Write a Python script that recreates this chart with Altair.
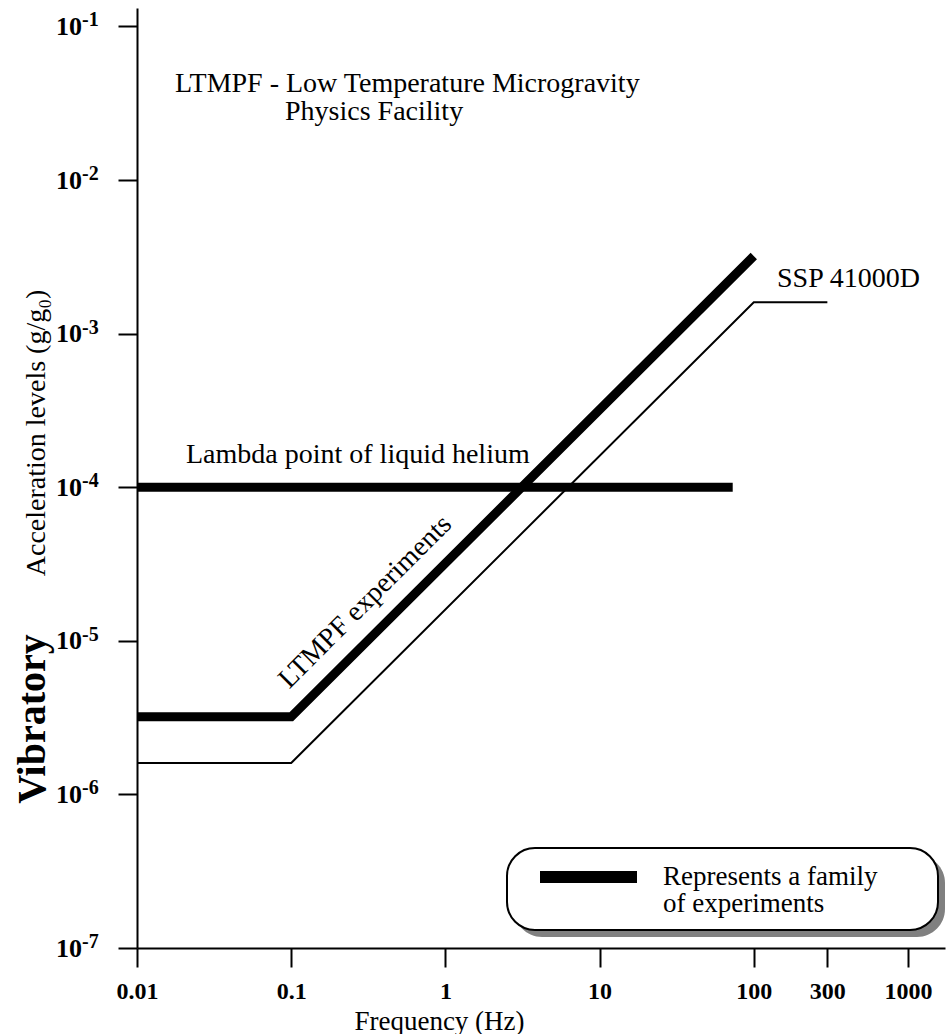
import altair as alt
import pandas as pd

SERIF = "Liberation Serif"

# ---- data ----
ltmpf_freq = [0.01, 0.1, 100]
ltmpf_acc = [3.2e-6, 3.2e-6, 3.2e-3]

ssp_freq = [0.01, 0.1, 100, 300]
ssp_acc = [1.6e-6, 1.6e-6, 1.6e-3, 1.6e-3]

lambda_freq = [0.01, 73]
lambda_acc = [1e-4, 1e-4]

x_ticks = [0.01, 0.1, 1, 10, 100, 300, 1000]
y_ticks = [1e-7, 1e-6, 1e-5, 1e-4, 1e-3, 1e-2, 1e-1]
y_base = ["10"] * 7
y_exp = ["-7", "-6", "-5", "-4", "-3", "-2", "-1"]

x_domain = [0.01, 1738]
y_domain = [1e-7, 0.1318]

# annotation anchors (frequency, acceleration)
title_lines = ["LTMPF - Low Temperature Microgravity", "Physics Facility"]
title_f = [0.01764, 0.0912]
title_a = [0.03758, 0.0247]

lambda_label = ["Lambda point of liquid helium"]
lambda_label_f = [0.02078]
lambda_label_a = [1.443e-4]

ssp_label = ["SSP 41000D"]
ssp_label_f = [141.4]
ssp_label_a = [2.02e-3]

ltmpf_label = ["LTMPF experiments"]
ltmpf_label_f = [0.3293]
ltmpf_label_a = [1.642e-5]

legend_lines = ["Represents a family", "of experiments"]

# ---- encodings ----
x_axis = alt.Axis(
    values=x_ticks, labelExpr="format(datum.value, '~g')",
    tickSize=19, tickWidth=2, tickColor="black",
    domainWidth=2, domainColor="black", grid=False,
    labelFont=SERIF, labelFontSize=24, labelFontWeight="bold", labelColor="black",
    labelPadding=12, labelBaseline="top", labelFlush=False, labelOverlap=False,
    title="Frequency (Hz)", titleFont=SERIF, titleFontSize=27, titleFontWeight="normal",
    titleColor="black", titleX=302, titleY=81, titleAlign="center", titleBaseline="alphabetic",
)
y_axis = alt.Axis(
    values=y_ticks, labels=False, tickSize=19, tickWidth=2, tickColor="black",
    domainWidth=2, domainColor="black", grid=False, title=None,
)
X = alt.X("f:Q", scale=alt.Scale(type="log", domain=x_domain, nice=False), axis=x_axis)
Y = alt.Y("a:Q", scale=alt.Scale(type="log", domain=y_domain, nice=False), axis=y_axis)

ltmpf_df = pd.DataFrame({"f": ltmpf_freq, "a": ltmpf_acc})
ssp_df = pd.DataFrame({"f": ssp_freq, "a": ssp_acc})
lambda_df = pd.DataFrame({"f": lambda_freq, "a": lambda_acc})

ssp_line = alt.Chart(ssp_df).mark_line(color="black", strokeWidth=2, strokeJoin="miter").encode(x=X, y=Y)
ltmpf_line = alt.Chart(ltmpf_df).mark_line(color="black", strokeWidth=9, strokeJoin="miter", strokeCap="butt").encode(x=X, y=Y)
lambda_line = alt.Chart(lambda_df).mark_line(color="black", strokeWidth=9, strokeCap="butt").encode(x=X, y=Y)

# y tick labels: 10 with superscript exponent
ytl = pd.DataFrame({"a": y_ticks, "b": y_base, "e": y_exp, "f": [0.01] * 7})
ylab_base = alt.Chart(ytl).mark_text(font=SERIF, fontSize=26, fontWeight="bold", align="right",
                                     baseline="alphabetic", dy=8.5, color="black").encode(
    x=alt.value(-55), y=Y, text="b:N")
ylab_exp = alt.Chart(ytl).mark_text(font=SERIF, fontSize=20, fontWeight="bold", align="left",
                                    baseline="alphabetic", dy=0, color="black").encode(
    x=alt.value(-55), y=Y, text="e:N")

def text_layer(texts, fs, accs, **kw):
    df = pd.DataFrame({"f": fs, "a": accs, "t": texts})
    return alt.Chart(df).mark_text(font=SERIF, fontSize=28, color="black", baseline="alphabetic", **kw).encode(
        x=X, y=Y, text="t:N")

title_txt = text_layer(title_lines, title_f, title_a, align="left")
lambda_txt = text_layer(lambda_label, lambda_label_f, lambda_label_a, align="left")
ssp_txt = text_layer(ssp_label, ssp_label_f, ssp_label_a, align="left")
ltmpf_txt = text_layer(ltmpf_label, ltmpf_label_f, ltmpf_label_a, align="center", angle=315)

one = pd.DataFrame({"k": [0]})
vib = alt.Chart(one).mark_text(font=SERIF, fontSize=40, fontWeight="bold", angle=270, align="center",
                               baseline="alphabetic", color="black").encode(
    x=alt.value(-92.5), y=alt.value(711), text=alt.value("Vibratory"))
acc = alt.Chart(one).mark_text(font=SERIF, fontSize=28, angle=270, align="center",
                               baseline="alphabetic", color="black").encode(
    x=alt.value(-92), y=alt.value(425), text=alt.value("Acceleration levels (g/g\u2080)"))

# legend box
shadow = alt.Chart(one).mark_rect(fill="#808080", cornerRadius=28).encode(
    x=alt.value(377), x2=alt.value(808), y=alt.value(847), y2=alt.value(929))
box = alt.Chart(one).mark_rect(fill="white", stroke="black", strokeWidth=2, cornerRadius=28).encode(
    x=alt.value(370), x2=alt.value(801), y=alt.value(840), y2=alt.value(922))
seg = alt.Chart(one).mark_rule(color="black", strokeWidth=12).encode(
    x=alt.value(403), x2=alt.value(500), y=alt.value(869))
leg1 = alt.Chart(one).mark_text(font=SERIF, fontSize=27, align="left", baseline="alphabetic", color="black").encode(
    x=alt.value(526), y=alt.value(877), text=alt.value(legend_lines[0]))
leg2 = alt.Chart(one).mark_text(font=SERIF, fontSize=27, align="left", baseline="alphabetic", color="black").encode(
    x=alt.value(526), y=alt.value(904), text=alt.value(legend_lines[1]))

chart = alt.layer(
    ssp_line, ltmpf_line, lambda_line,
    ylab_base, ylab_exp,
    title_txt, lambda_txt, ssp_txt, ltmpf_txt,
    vib, acc, shadow, box, seg, leg1, leg2,
).properties(
    width=808, height=940,
    autosize=alt.AutoSizeParams(type="none"),
    padding={"left": 137, "top": 8, "right": 2, "bottom": 86},
    background="white",
).configure_view(stroke=None)

chart.save("out.html", embed_options={"renderer": "svg", "actions": False})
